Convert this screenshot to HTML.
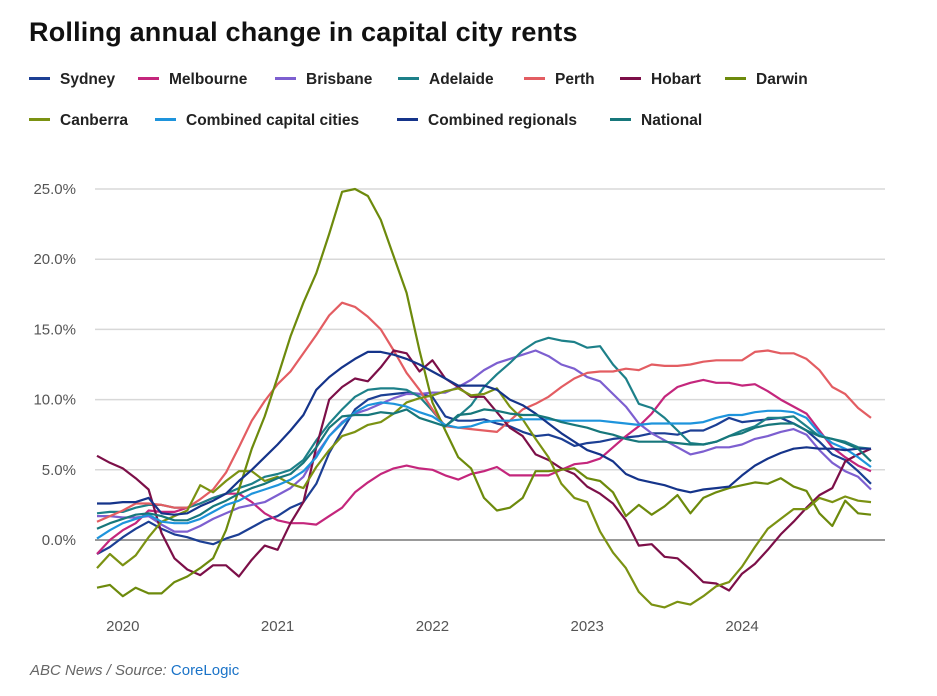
<!DOCTYPE html>
<html><head><meta charset="utf-8">
<style>
body{margin:0;background:#fff;width:937px;height:696px;overflow:hidden;font-family:"Liberation Sans",sans-serif;position:relative}
#title{position:absolute;left:29px;top:17px;font-size:27px;font-weight:bold;color:#111;letter-spacing:0.2px;margin:0}
.leg{position:absolute;font-size:15.5px;font-weight:bold;color:#222;white-space:nowrap}
.sw{display:inline-block;width:21px;height:3px;vertical-align:middle;margin-right:10px;position:relative;top:-1px}
#foot{position:absolute;left:30px;top:662px;font-size:15px;font-style:italic;color:#666}
#foot span{color:#1a73c8;font-style:normal}
</style></head><body>
<h1 id="title">Rolling annual change in capital city rents</h1>
<div id="legend"></div>
<svg id="chart" width="937" height="696" style="position:absolute;left:0;top:0"></svg>
<div id="foot">ABC News / Source: <span>CoreLogic</span></div>
<script>
const seriesNames=["Sydney","Melbourne","Brisbane","Adelaide","Perth","Hobart","Darwin","Canberra","Combined capital cities","Combined regionals","National"];
const seriesColors=["#1c3f94","#c4267c","#7d5fd0","#1d8089","#e35d62","#7c0f48","#6d8a0c","#7b9212","#1e94dc","#15348a","#17777b"];
const yTicks=[0,5,10,15,20,25];
const xTickLabels=["2020","2021","2022","2023","2024"];
const xTickIdx=[2,14,26,38,50];
const sydney=[-1.0,-0.5,0.2,0.8,1.3,0.8,0.4,0.2,-0.1,-0.3,0.1,0.4,0.9,1.4,1.7,2.3,2.7,4.0,6.2,7.8,9.3,10.0,10.3,10.4,10.5,10.4,10.2,8.8,8.5,8.5,8.6,8.3,8.1,7.7,7.4,7.5,7.2,6.7,6.9,7.0,7.2,7.3,7.4,7.6,7.6,7.5,7.8,7.8,8.2,8.7,8.4,8.5,8.6,8.7,8.3,7.8,7.0,6.1,5.7,4.9,4.0];
const melbourne=[-1.0,0.0,0.7,1.2,2.1,2.0,2.0,2.3,2.6,3.0,3.3,3.3,2.7,1.9,1.4,1.2,1.2,1.1,1.7,2.3,3.4,4.1,4.7,5.1,5.3,5.1,5.0,4.6,4.3,4.7,4.9,5.2,4.6,4.6,4.6,4.6,5.0,5.4,5.5,5.8,6.6,7.4,8.1,9.0,10.2,10.9,11.2,11.4,11.2,11.2,11.0,11.1,10.6,10.0,9.5,9.0,7.8,6.6,5.9,5.3,4.9];
const brisbane=[1.7,1.7,1.6,1.6,1.7,1.1,0.6,0.6,1.0,1.5,1.9,2.3,2.5,2.7,3.2,3.7,4.5,6.1,7.4,8.4,9.0,9.3,9.7,10.1,10.4,10.4,10.5,10.5,10.9,11.4,12.1,12.6,12.9,13.2,13.5,13.1,12.5,12.2,11.6,11.3,10.4,9.5,8.3,7.6,7.1,6.6,6.1,6.3,6.6,6.6,6.8,7.2,7.4,7.7,7.9,7.5,6.4,5.5,4.9,4.5,3.6];
const adelaide=[1.9,2.0,2.0,2.3,2.5,2.5,2.3,2.3,2.6,3.0,3.3,3.7,4.0,4.5,4.7,5.0,5.7,7.1,8.3,9.3,10.2,10.7,10.8,10.8,10.7,10.2,9.2,8.1,8.8,9.6,10.9,11.8,12.6,13.5,14.1,14.4,14.2,14.1,13.7,13.8,12.5,11.5,9.7,9.4,8.7,7.8,6.9,6.8,7.0,7.4,7.8,8.1,8.7,8.7,8.8,8.1,7.4,7.2,7.0,6.6,6.5];
const perth=[1.3,1.7,2.1,2.6,2.6,2.5,2.3,2.3,2.9,3.6,4.8,6.6,8.5,9.9,11.1,12.0,13.3,14.6,16.0,16.9,16.6,15.9,15.0,13.5,11.9,10.7,9.3,8.1,8.0,7.9,7.8,7.7,8.5,9.3,9.7,10.2,10.9,11.5,11.9,12.0,12.0,12.2,12.1,12.5,12.4,12.4,12.5,12.7,12.8,12.8,12.8,13.4,13.5,13.3,13.3,12.9,12.1,10.9,10.4,9.4,8.7];
const hobart=[6.0,5.5,5.1,4.4,3.6,0.5,-1.3,-2.1,-2.5,-1.8,-1.8,-2.6,-1.4,-0.4,-0.7,1.2,2.7,6.6,10.0,10.9,11.5,11.3,12.3,13.5,13.3,12.0,12.8,11.5,10.9,10.2,10.2,9.1,8.0,7.4,6.1,5.7,5.1,4.7,3.8,3.3,2.6,1.4,-0.4,-0.3,-1.2,-1.3,-2.1,-3.0,-3.1,-3.6,-2.4,-1.7,-0.7,0.4,1.3,2.3,3.2,3.7,5.6,6.1,6.5];
const darwin=[-3.4,-3.2,-4.0,-3.4,-3.8,-3.8,-3.0,-2.6,-2.0,-1.3,0.7,3.6,6.5,8.8,11.6,14.5,16.9,19.0,21.8,24.8,25.0,24.5,22.8,20.2,17.6,13.5,9.8,7.8,5.9,5.1,3.0,2.1,2.3,3.0,4.9,4.9,5.0,5.1,4.4,4.2,3.4,1.7,2.5,1.8,2.4,3.2,1.9,3.0,3.4,3.7,3.9,4.1,4.0,4.4,3.8,3.5,1.9,1.0,2.8,1.9,1.8];
const canberra=[-2.0,-1.0,-1.8,-1.1,0.2,1.3,1.7,2.1,3.9,3.4,4.2,4.9,4.9,4.2,4.5,4.0,3.7,5.2,6.4,7.4,7.7,8.2,8.4,9.0,9.8,10.1,10.3,10.6,10.8,10.3,10.4,10.8,9.5,8.6,7.2,5.9,4.0,3.0,2.7,0.6,-0.9,-2.0,-3.7,-4.6,-4.8,-4.4,-4.6,-4.0,-3.3,-3.0,-1.9,-0.5,0.8,1.5,2.2,2.2,3.0,2.7,3.1,2.8,2.7];
const capitals=[0.1,0.7,1.2,1.5,1.8,1.3,1.2,1.2,1.5,2.0,2.5,2.8,3.3,3.6,3.9,4.3,4.9,5.9,7.4,8.3,9.1,9.6,9.8,9.7,9.5,9.1,8.8,8.2,8.0,8.1,8.4,8.5,8.5,8.6,8.6,8.6,8.5,8.5,8.5,8.5,8.4,8.3,8.2,8.3,8.3,8.3,8.3,8.4,8.7,8.9,8.9,9.1,9.2,9.2,9.1,8.7,7.6,6.9,6.5,5.9,5.2];
const regionals=[2.6,2.6,2.7,2.7,3.0,1.9,1.8,1.9,2.4,2.8,3.3,4.2,5.0,5.9,6.8,7.8,8.9,10.7,11.6,12.3,12.9,13.4,13.4,13.2,12.9,12.5,12.0,11.5,11.0,11.0,11.0,10.7,10.0,9.6,9.0,8.3,7.6,7.0,6.4,6.1,5.6,4.7,4.3,4.1,3.9,3.6,3.4,3.6,3.7,3.8,4.6,5.3,5.8,6.2,6.5,6.6,6.5,6.5,6.4,6.5,6.5];
const national=[0.8,1.2,1.5,1.8,1.9,1.7,1.4,1.4,1.8,2.4,2.8,3.3,3.7,4.0,4.4,4.7,5.5,6.6,8.0,8.8,8.9,8.9,9.1,9.0,9.3,8.7,8.4,8.1,8.9,9.0,9.3,9.2,9.0,8.9,8.9,8.7,8.4,8.2,8.0,7.7,7.5,7.2,7.0,7.0,7.0,6.9,6.8,6.8,7.0,7.4,7.6,8.0,8.2,8.3,8.3,7.8,7.4,7.2,6.9,6.5,5.6];
const seriesData=[sydney,melbourne,brisbane,adelaide,perth,hobart,darwin,canberra,capitals,regionals,national];

const NS="http://www.w3.org/2000/svg";
const svg=document.getElementById('chart');
const X0=97,DX=12.9,Y0=540,PY=14.04,GL=95,GR=885;
function xs(i){return X0+i*DX;}
function ys(v){return Y0-v*PY;}
function mk(t,a){const e=document.createElementNS(NS,t);for(const k in a)e.setAttribute(k,a[k]);svg.appendChild(e);return e;}
yTicks.forEach(t=>{
  const l=mk('line',{x1:GL,x2:GR,y1:ys(t),y2:ys(t),stroke:t===0?'#999':'#d8d8d8','stroke-width':t===0?2:1.5});
  
  
  const tx=mk('text',{x:76,y:ys(t)+5,'text-anchor':'end','font-size':15,fill:'#555','font-family':'Liberation Sans, sans-serif'});
  tx.textContent=t.toFixed(1)+'%';
  
  
});
xTickLabels.forEach((lab,k)=>{
  const tx=mk('text',{x:xs(xTickIdx[k]),y:631,'text-anchor':'middle','font-size':15,fill:'#555','font-family':'Liberation Sans, sans-serif'});
  tx.textContent=lab;
  
  
});
seriesData.forEach((d,s)=>{
  const p=mk('polyline',{points:d.map((v,i)=>xs(i).toFixed(1)+','+ys(v).toFixed(1)).join(' '),fill:'none',stroke:seriesColors[s],'stroke-width':2.2,'stroke-linejoin':'round'});
  
  
});
const legPos=[[29,71],[138,71],[275,71],[398,71],[524,71],[620,71],[725,71],[29,112],[155,112],[397,112],[610,112]];
const leg=document.getElementById('legend');
seriesNames.forEach((n,s)=>{
  const d=document.createElement('div');
  d.className='leg';
  d.style.left=legPos[s][0]+'px';d.style.top=legPos[s][1]+'px';
  d.innerHTML='<span class="sw" style="background:'+seriesColors[s]+'"></span>'+n;
  
  
  leg.appendChild(d);
});
</script>
</body></html>
